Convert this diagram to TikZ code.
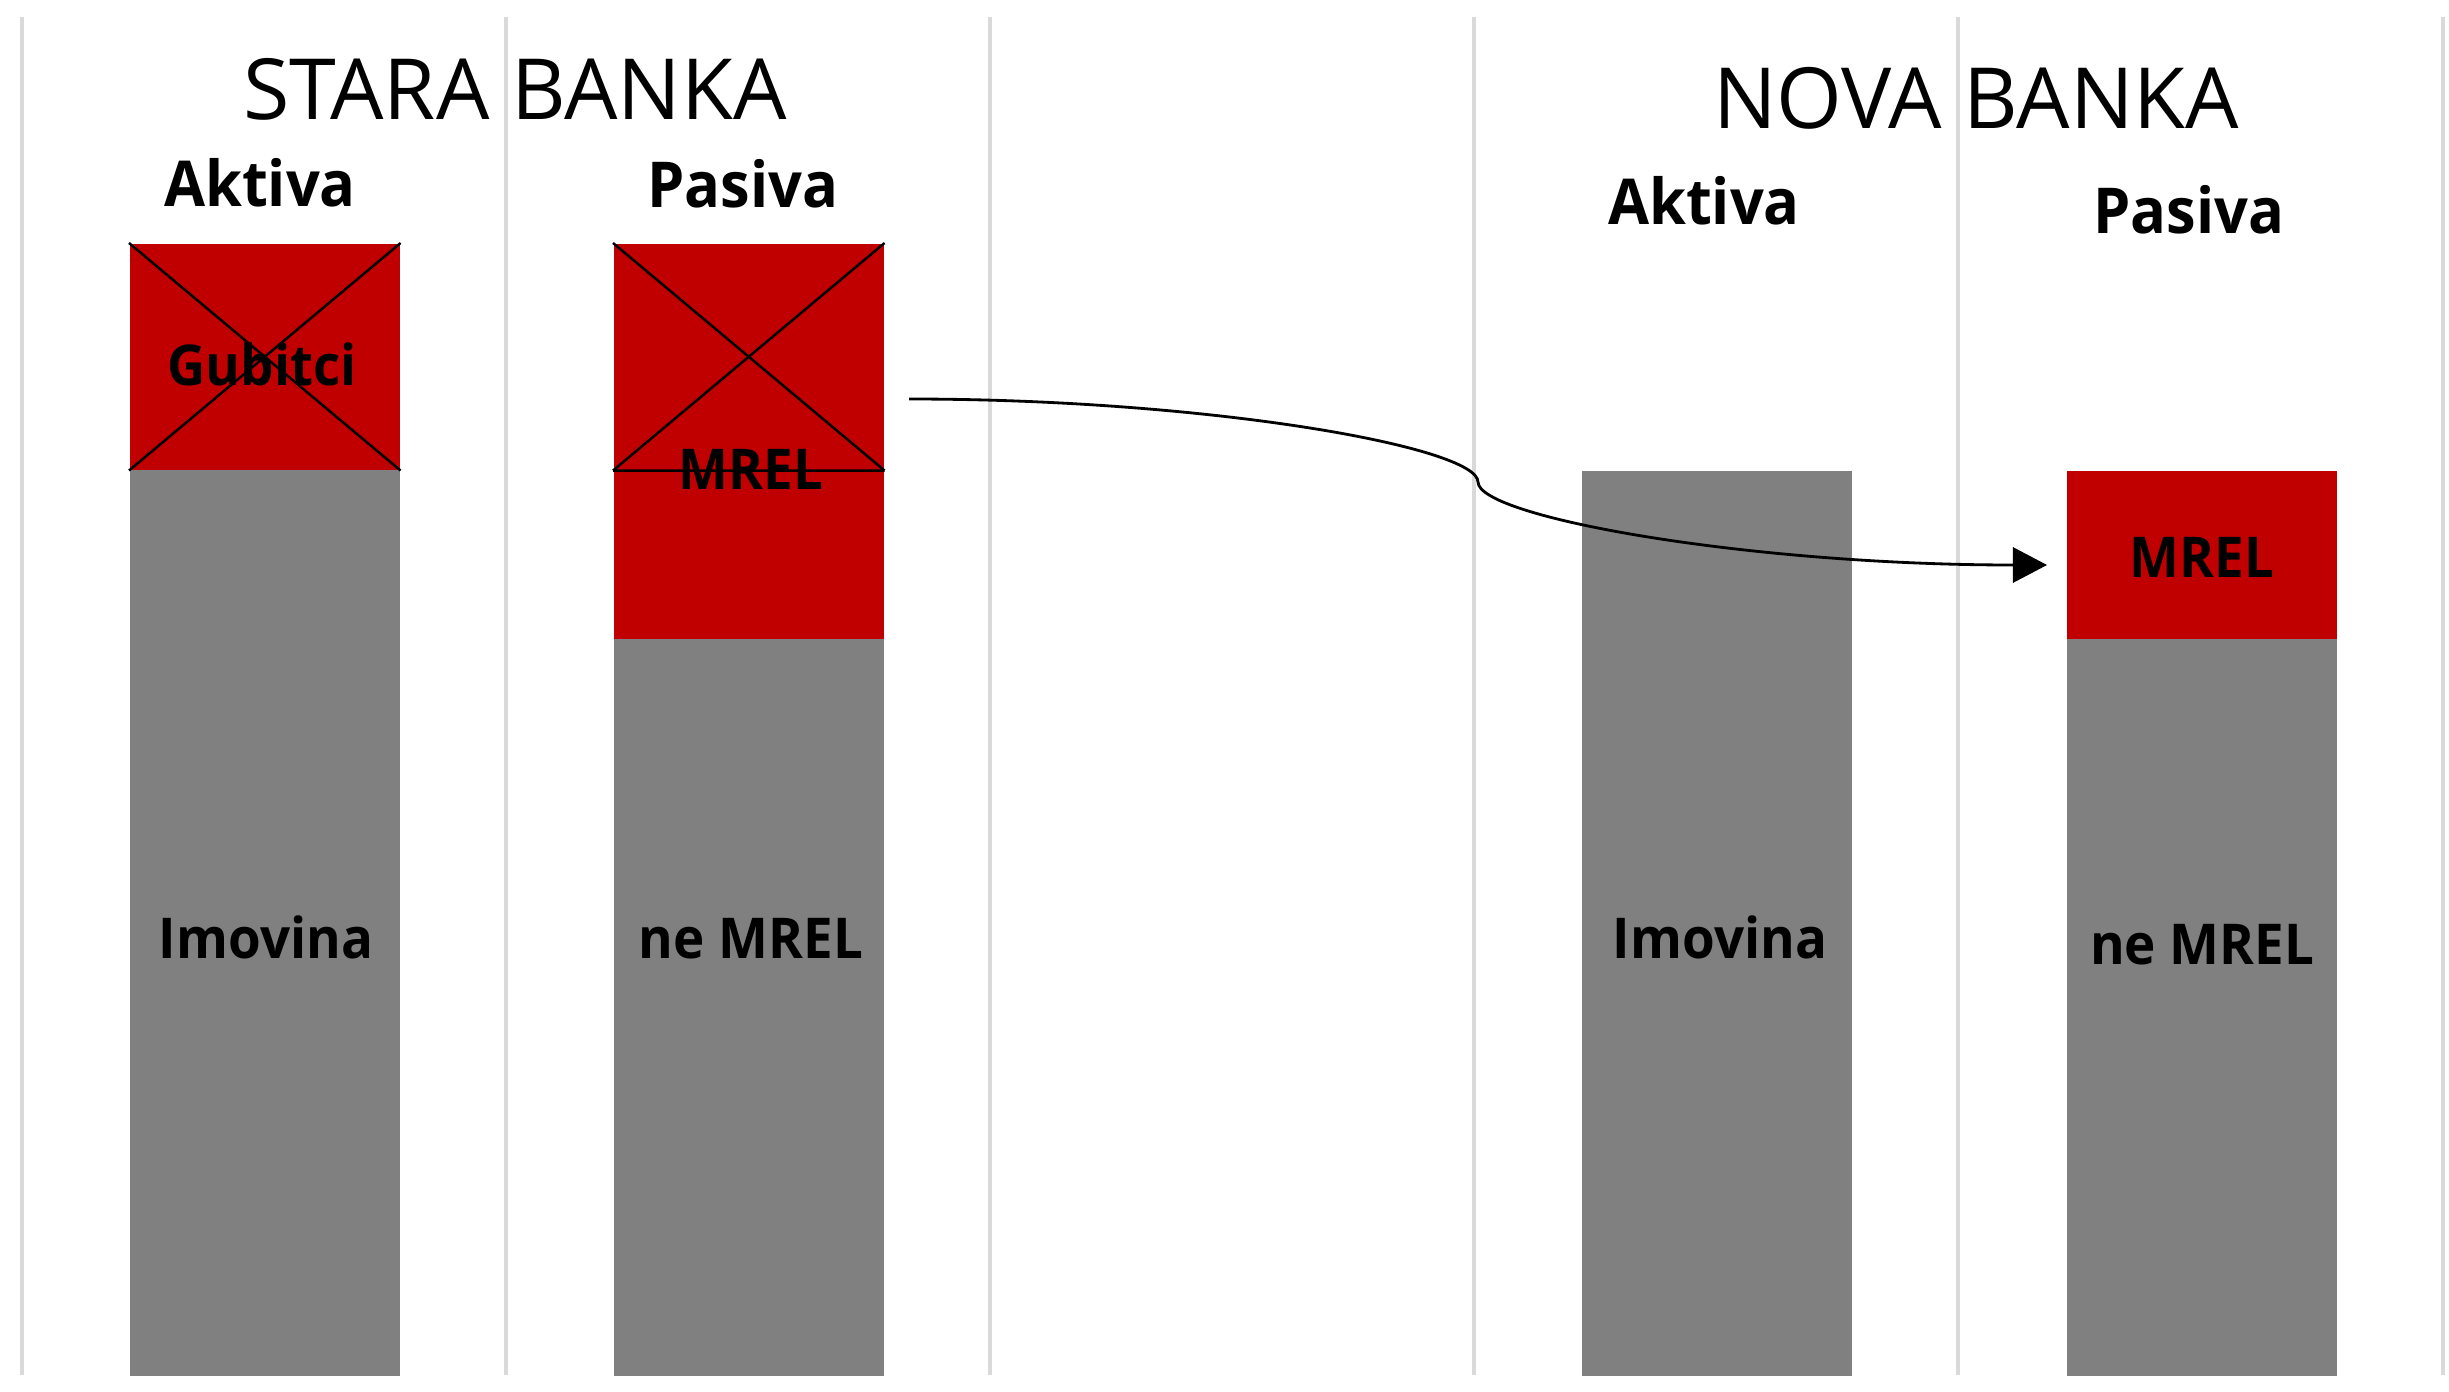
\documentclass[tikz,border=0pt]{standalone}
\usepackage{fontspec}
\setmainfont[BoldFeatures={FakeStretch=0.94}]{Open Sans}
\usetikzlibrary{arrows.meta}
\definecolor{mrelred}{RGB}{192,0,0}
\definecolor{boxgray}{RGB}{128,128,128}
\definecolor{sepgray}{RGB}{217,217,217}

\begin{document}
\begin{tikzpicture}[x=0.01cm, y=-0.01cm,
        box/.style={fill=#1, inner sep=0pt, anchor=north west, minimum width=2.7cm},
        sepline/.style={color=sepgray, line width=1pt},
        cross/.style={line width=0.7pt},
        title/.style={font=\fontsize{24}{29}\selectfont, inner sep=0pt, anchor=base},
        head/.style={font=\bfseries\fontsize{18}{22}\selectfont, inner sep=0pt, anchor=base},
        lbl/.style={font=\bfseries\fontsize{16}{19}\selectfont, inner sep=0pt, anchor=base}]
                \useasboundingbox (0,0) rectangle (2449,1391);
                \foreach \x in {22,506,990,1474,1958,2443}
                    \draw[sepline] (\x,17) -- (\x,1375);
                \node[box=mrelred, minimum height=2.26cm] (loss) at (129,243) {};
                \node[box=boxgray, minimum height=9.06cm] (oldasset) at (129,469) {};
                \node[box=mrelred, minimum height=2.26cm] (wroff) at (613,243) {};
                \node[box=mrelred, minimum height=1.69cm] (oldmrel) at (613,469) {};
                \node[box=boxgray, minimum height=7.37cm] (oldnon) at (613,638) {};
                \node[box=boxgray, minimum height=9.05cm] (newasset) at (1581,470) {};
                \node[box=mrelred, minimum height=1.68cm] (newmrel) at (2066,470) {};
                \node[box=boxgray, minimum height=7.37cm] (newnon) at (2066,638) {};
                \draw[cross] (loss.north west) -- (loss.south east) (loss.north east) -- (loss.south west);
                \draw[cross] (wroff.north west) -- (wroff.south east) (wroff.north east) -- (wroff.south west)
                    (wroff.south west) -- (wroff.south east);
                \node[title] (oldtitle) at (515,120) {STARA BANKA};
                \node[head] (oldakt) at (260,206) {Aktiva};
                \node[head] (oldpas) at (743,207) {Pasiva};
                \node[lbl] (gubitci) at (262,385) {Gubitci};
                \node[lbl] (oldmreltxt) at (751,489) {MREL};
                \node[lbl] (oldassettxt) at (266,958) {Imovina};
                \node[lbl] (oldnontxt) at (751,958) {ne MREL};
                \node[title] (newtitle) at (1976,129) {NOVA BANKA};
                \node[head] (newakt) at (1704,225) {Aktiva};
                \node[head] (newpas) at (2189,234) {Pasiva};
                \node[lbl] (newmreltxt) at (2202,577) {MREL};
                \node[lbl] (newassettxt) at (1720,958) {Imovina};
                \node[lbl] (newnontxt) at (2202,964) {ne MREL};
                \coordinate (from) at (909,399);
                \coordinate (to) at (2047,565);
                \draw[line width=0.8pt, -{Triangle[length=9.7pt, width=10pt]}] (from)
                    .. controls (1209,399) and (1478,447) .. (1478,482)
                    .. controls (1478,517) and (1747,565) .. (to);
            \end{tikzpicture}
\end{document}
